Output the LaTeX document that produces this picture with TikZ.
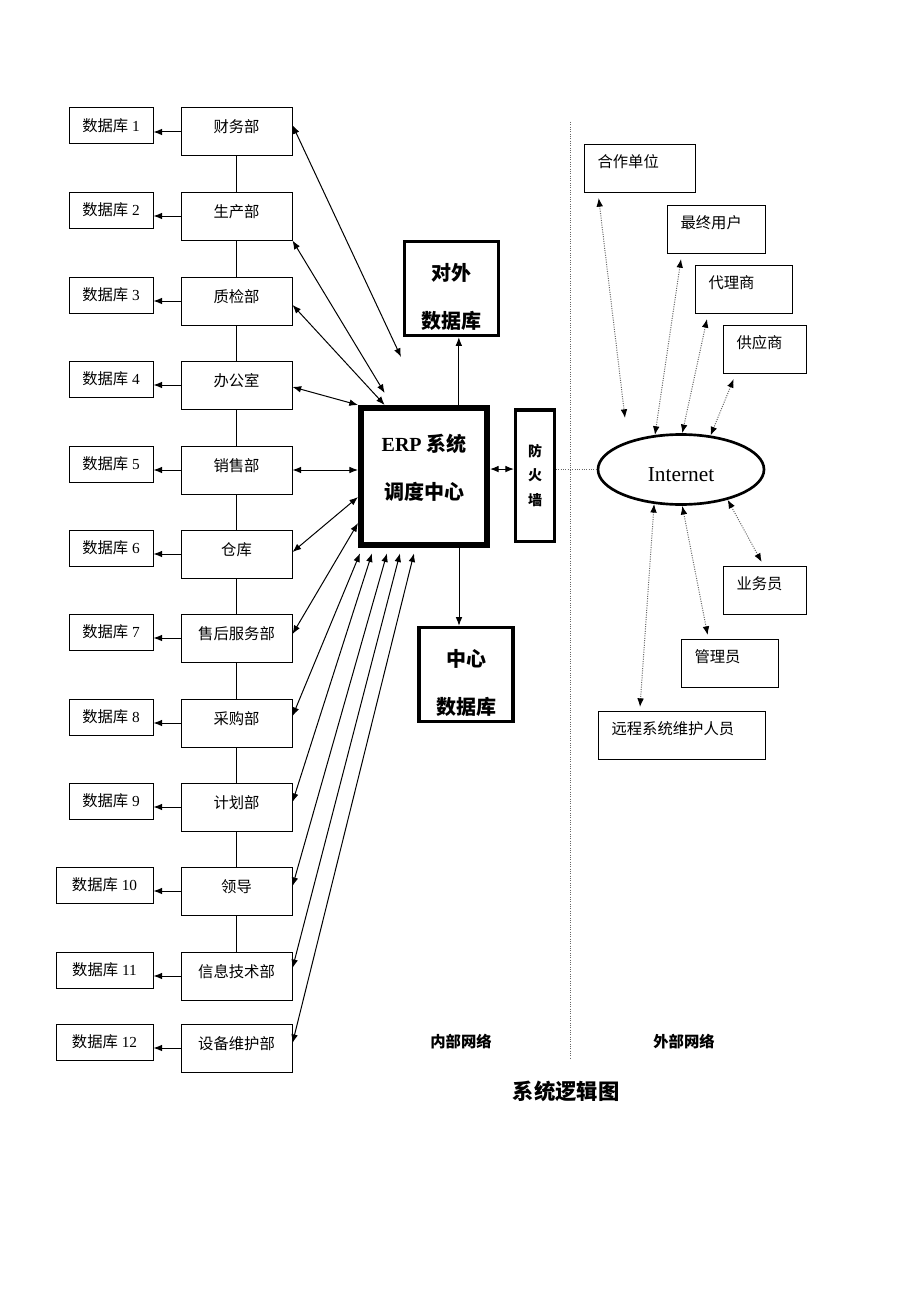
\documentclass[tikz,border=0pt]{standalone}
\usepackage{fontspec}
\setmainfont{Liberation Serif}
\newfontfamily\cjk{Noto Sans CJK SC}
\usetikzlibrary{shapes.geometric,arrows.meta}

\begin{document}
\begin{tikzpicture}[x=0.75pt, y=-0.75pt, line width=0.75pt, >={Latex[length=6.5pt,width=5pt]},
	every node/.style={font=\fontsize{11.5}{14}\selectfont},
	dbbox/.style={draw, minimum width=63pt, minimum height=27pt},
	deptbox/.style={draw, font=\cjk\fontsize{11.5}{14}\selectfont, minimum width=83.25pt, minimum height=36pt, text height=10pt, text depth=8.5pt},
	outbox/.style={draw, anchor=north west, align=left, font=\cjk\fontsize{11.5}{14}\selectfont, minimum height=36pt, inner xsep=9.75pt, text height=10pt, text depth=11.7pt},
	bigbox/.style={draw, line width=2.6pt, minimum width=70.5pt, minimum height=70.5pt, inner ysep=0pt, align=center, font=\cjk\bfseries\fontsize{15}{36}\selectfont},
	dotarrow/.style={<->, >={Latex[length=6.5pt,width=5pt,black]}, densely dotted, black!60}]
	\path[fill=white] (0,0) rectangle (920,1302);
	% databases
	\node (db1) at (111,126) [dbbox] {{\cjk 数据库} 1};
	\node (db2) at (111,210) [dbbox] {{\cjk 数据库} 2};
	\node (db3) at (111,295) [dbbox] {{\cjk 数据库} 3};
	\node (db4) at (111,379) [dbbox] {{\cjk 数据库} 4};
	\node (db5) at (111,464) [dbbox] {{\cjk 数据库} 5};
	\node (db6) at (111,548) [dbbox] {{\cjk 数据库} 6};
	\node (db7) at (111,632) [dbbox] {{\cjk 数据库} 7};
	\node (db8) at (111,717) [dbbox] {{\cjk 数据库} 8};
	\node (db9) at (111,801) [dbbox] {{\cjk 数据库} 9};
	\node (db10) at (104.5,885) [dbbox, minimum width=72.75pt] {{\cjk 数据库} 10};
	\node (db11) at (104.5,970) [dbbox, minimum width=72.75pt] {{\cjk 数据库} 11};
	\node (db12) at (104.5,1042) [dbbox, minimum width=72.75pt] {{\cjk 数据库} 12};
	% departments
	\node (finance) at (236.5,132) [deptbox] {财务部};
	\node (production) at (236.5,216) [deptbox] {生产部};
	\node (quality) at (236.5,301) [deptbox] {质检部};
	\node (office) at (236.5,385) [deptbox] {办公室};
	\node (sales) at (236.5,470) [deptbox] {销售部};
	\node (warehouse) at (236.5,554) [deptbox] {仓库};
	\node (service) at (236.5,638) [deptbox] {售后服务部};
	\node (purchase) at (236.5,723) [deptbox] {采购部};
	\node (planning) at (236.5,807) [deptbox] {计划部};
	\node (leaders) at (236.5,891) [deptbox] {领导};
	\node (it) at (236.5,976) [deptbox] {信息技术部};
	\node (maintenance) at (236.5,1048) [deptbox] {设备维护部};
	\draw (finance) -- (production);
	\draw (production) -- (quality);
	\draw (quality) -- (office);
	\draw (office) -- (sales);
	\draw (sales) -- (warehouse);
	\draw (warehouse) -- (service);
	\draw (service) -- (purchase);
	\draw (purchase) -- (planning);
	\draw (planning) -- (leaders);
	\draw (leaders) -- (it);
	\draw[->] (finance.west) -- (finance.west -| db1.east);
	\draw[->] (production.west) -- (production.west -| db2.east);
	\draw[->] (quality.west) -- (quality.west -| db3.east);
	\draw[->] (office.west) -- (office.west -| db4.east);
	\draw[->] (sales.west) -- (sales.west -| db5.east);
	\draw[->] (warehouse.west) -- (warehouse.west -| db6.east);
	\draw[->] (service.west) -- (service.west -| db7.east);
	\draw[->] (purchase.west) -- (purchase.west -| db8.east);
	\draw[->] (planning.west) -- (planning.west -| db9.east);
	\draw[->] (leaders.west) -- (leaders.west -| db10.east);
	\draw[->] (it.west) -- (it.west -| db11.east);
	\draw[->] (maintenance.west) -- (maintenance.west -| db12.east);
	% centre
	\node (erp) at (424,476.5) [bigbox, line width=4.5pt, minimum width=94.5pt, minimum height=102.75pt, text height=49.2pt, text depth=15.3pt] {{\rmfamily ERP} 系统\\调度中心};
	\node (extdb) at (451.5,288.5) [bigbox, text height=61.2pt, text depth=1.8pt] {对外\\数据库};
	\node (centerdb) at (466,674.5) [bigbox, text height=61.2pt, text depth=1.8pt] {中心\\数据库};
	\node (firewall) at (535,475.5) [draw, line width=2.6pt, minimum width=28.9pt, minimum height=98.6pt, align=center, font=\cjk\bfseries\fontsize{10.5}{18.4}\selectfont] {防\\火\\墙};
	\draw[->] ([xshift=5.5pt]extdb.south |- erp.north) -- ([xshift=5.5pt]extdb.south);
	\draw[->] ([xshift=-5.25pt]centerdb.north |- erp.south) -- ([xshift=-5.25pt]centerdb.north);
	\draw[<->] ([yshift=5.6pt]erp.east) -- ([yshift=5.6pt]erp.east -| firewall.west);
	\coordinate (finend) at (401,357);
	\draw[<->] (finance.7) -- (finend);
	\draw[<->] (production.south east) -- ([xshift=20pt,yshift=9pt]erp.north west);
	\draw[<->] (quality.-4) -- ([xshift=20pt]erp.north west);
	\draw[<->] (office.-2) -- (erp.north west);
	\draw[<->] (sales) -- (sales -| erp.west);
	\draw[<->] (warehouse.2) -- ([yshift=-15.4pt]erp.west);
	\draw[<->] (service.4) -- ([yshift=-34.9pt]erp.west);
	\draw[<->] (purchase.7) -- ([xshift=1.5pt,yshift=-4pt]erp.south west);
	\draw[<->] (planning.5) -- ([xshift=10.5pt,yshift=-4pt]erp.south west);
	\draw[<->] (leaders.5) -- ([xshift=21.75pt,yshift=-4pt]erp.south west);
	\draw[<->] (it.8) -- ([xshift=31.5pt,yshift=-4pt]erp.south west);
	\draw[<->] (maintenance.5) -- ([xshift=42pt,yshift=-4pt]erp.south west);
	% outside
	\draw[densely dotted, black!60] (570,122) -- (570,1060);
	\node (internet) at (681,469.5) [draw, ellipse, line width=2pt, inner sep=0pt, minimum width=124.5pt, minimum height=52.5pt, font=\fontsize{16}{18}\selectfont, text height=17.4pt, text depth=0pt] {Internet};
	\draw[densely dotted, black!60] (firewall.east |- internet.west) -- (internet.west);
	\node (partner) at (584,144) [outbox, text width=63.75pt] {合作单位};
	\node (enduser) at (667,205) [outbox, text width=54pt] {最终用户};
	\node (agent) at (695,265) [outbox, text width=53.25pt] {代理商};
	\node (supplier) at (723,325) [outbox, text width=42.75pt] {供应商};
	\node (salesman) at (723,566) [outbox, text width=42.75pt] {业务员};
	\node (admin) at (681,639) [outbox, text width=53.25pt] {管理员};
	\node (remote) at (598,711) [outbox, text width=105.75pt] {远程系统维护人员};
	\coordinate (partnerend) at (625,418);
	\draw[dotarrow] ([xshift=11pt,yshift=-3.75pt]partner.south west) -- (partnerend);
	\draw[dotarrow] ([xshift=10.5pt,yshift=-3.75pt]enduser.south west) -- (internet.127);
	\draw[dotarrow] ([xshift=9pt,yshift=-3.75pt]agent.south west) -- (internet.88);
	\draw[dotarrow] ([xshift=8pt,yshift=-3.75pt]supplier.south west) -- (internet.49);
	\draw[dotarrow] (internet.-33) -- ([xshift=29pt,yshift=3pt]salesman.north west);
	\draw[dotarrow] (internet.-88) -- ([xshift=20pt,yshift=3pt]admin.north west);
	\draw[dotarrow] (internet.-128) -- ([xshift=31.5pt,yshift=3pt]remote.north west);
	% labels
	\node (inside) at (461,1042) [font=\cjk\bfseries\fontsize{11.5}{14}\selectfont] {内部网络};
	\node (outside) at (684,1042) [font=\cjk\bfseries\fontsize{11.5}{14}\selectfont] {外部网络};
	\node (title) at (566,1091) [font=\cjk\bfseries\fontsize{16}{18}\selectfont] {系统逻辑图};
\end{tikzpicture}
\end{document}
